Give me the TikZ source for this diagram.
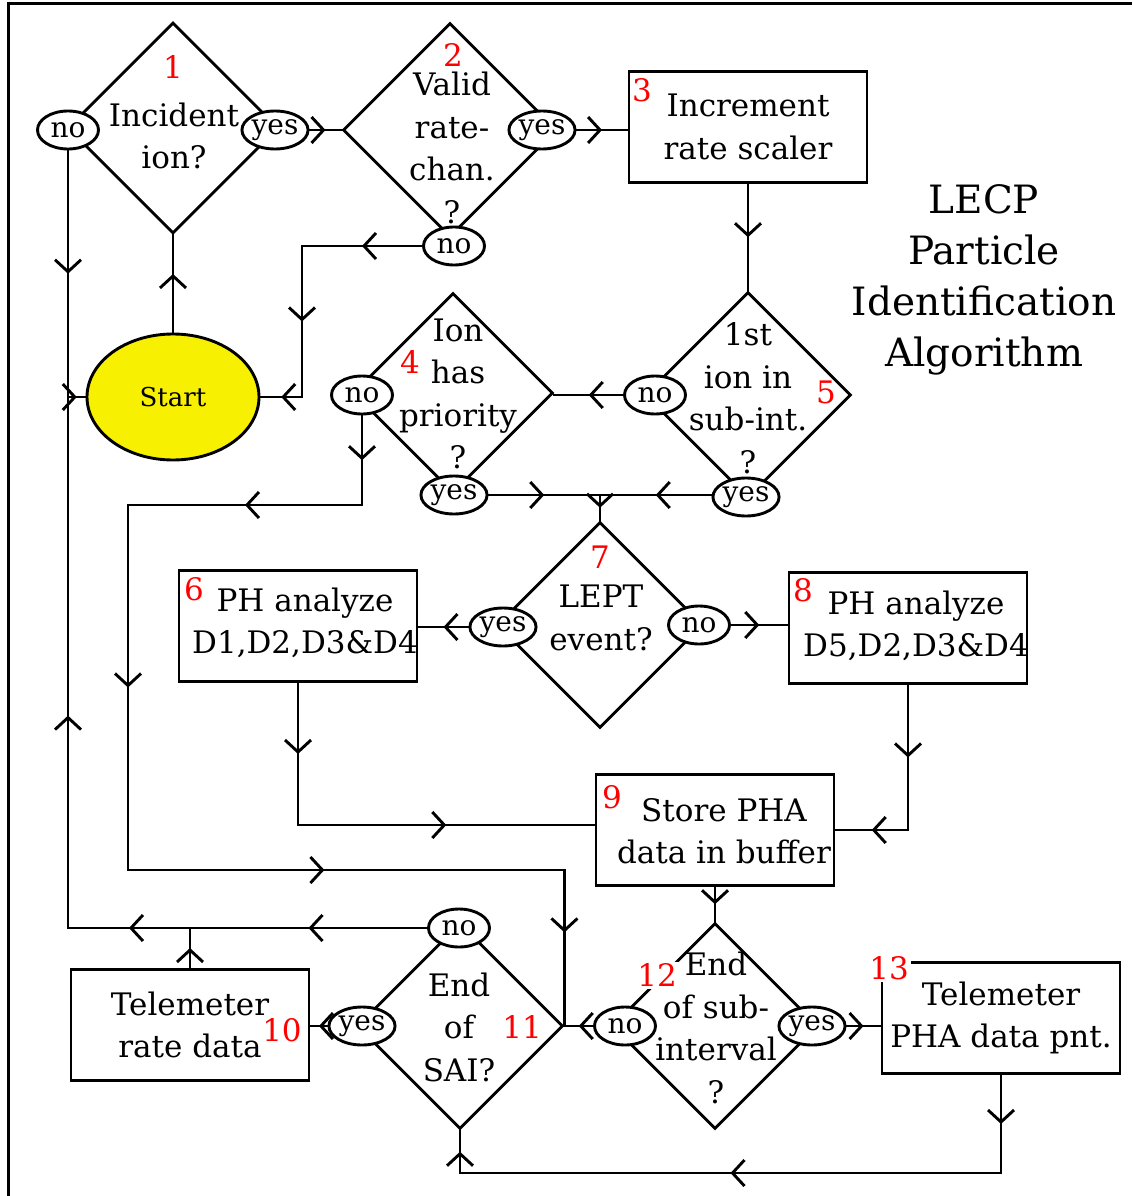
\documentclass[tikz,border=0pt]{standalone}
\usepackage{fontspec}
\setmainfont{DejaVu Serif}
\usetikzlibrary{shapes.geometric,arrows.meta,decorations.markings}
\definecolor{startyellow}{RGB}{247,240,0}

\begin{document}
\begin{tikzpicture}[x=1pt, y=-1pt, line width=2.9pt,
    every node/.style={font=\fontsize{31}{42.5}\selectfont},
    dia/.style={diamond, draw, aspect=1, minimum size=206pt, inner sep=0pt},
    box/.style={rectangle, draw, minimum width=238pt, minimum height=111pt,
      inner sep=0pt, align=center},
    yn/.style={ellipse, draw, fill=white, minimum width=61pt,
      minimum height=38pt, inner sep=0pt, font=\fontsize{28}{30}\selectfont},
    txt/.style={align=center, inner sep=0pt},
    num/.style={text=red, inner sep=0pt},
    flow/.style={line cap=rect, postaction={decorate}, decoration={markings,
      mark=at position #1 with {\arrow{Straight Barb[length=12pt,width=26pt]}}}},
    flow/.default=0.5]

    \useasboundingbox (0,0) rectangle (1132,1196);
    \draw[line width=3pt] (8,1196) -- (8,4) -- (1132,4);

    \node[dia, minimum size=211pt] (d1) at (173,128) {};
    \node[dia, minimum size=214pt] (d2) at (450,130) {};
    \node[dia, minimum size=200pt] (d4) at (453,393) {};
    \node[dia] (d5) at (748,395) {};
    \node[dia] (d7) at (600,625) {};
    \node[dia] (d11) at (460,1026) {};
    \node[dia] (d12) at (715,1026) {};

    \node[box] (b3) at (748,127) {Increment\\rate scaler};
    \node[box] (b6) at (298,626) {};
    \node[box] (b8) at (908,628) {};
    \node[box] (b9) at (715,830) {};
    \node[box] (b10) at (190,1025) {Telemeter\\rate data};
    \node[box] (b13) at (1001,1018) {Telemeter\\PHA data pnt.};

    \node[ellipse, draw, fill=startyellow, minimum width=172pt, minimum height=126pt,
      font=\fontsize{26}{30}\selectfont] (st) at (173,397) {Start};

    \node[txt] (t1) at (174,136) {Incident\\ion?};
    \node[txt] (t2) at (452,148) {Valid\\rate-\\chan.\\?};
    \node[txt] (t4) at (458,394) {Ion\\has\\priority\\?};
    \node[txt] (t5) at (748,398) {1st\\ion in\\sub-int.\\?};
    \node[txt] (t7) at (601,618) {LEPT\\event?};
    \node[txt] (t11) at (459,1027) {End\\of\\SAI?};
    \node[txt] (t12) at (716,1028) {End\\of sub-\\interval\\?};

    \begin{scope}
      \clip (b6.south west) rectangle (b6.north east);
      \node[txt] (t6) at (305,623) {PH analyze\\D1,D2,D3\&D4};
    \end{scope}
    \begin{scope}
      \clip (b8.south west) rectangle (b8.north east);
      \node[txt] (t8) at (916,626) {PH analyze\\D5,D2,D3\&D4};
    \end{scope}
    \begin{scope}
      \clip (b9.south west) rectangle (b9.north east);
      \node[txt] (t9) at (724,831) {Store PHA\\data in buffer};
    \end{scope}

    \node[txt, font=\fontsize{39}{51}\selectfont] (title) at (984,280)
      {LECP\\Particle\\Identification\\Algorithm};

    \node[num] (n1) at (173,67) {1};
    \node[num] (n2) at (453,55) {2};
    \node[num] (n3) at (642,90) {3};
    \node[num] (n4) at (410,362) {4};
    \node[num] (n5) at (826,392) {5};
    \node[num] (n6) at (194,589) {6};
    \node[num] (n7) at (600,557) {7};
    \node[num] (n8) at (803,590) {8};
    \node[num] (n9) at (612,797) {9};
    \node[num] (n10) at (282,1030) {10};
    \node[num] (n11) at (522,1027) {11};
    \node[num, fill=white, inner sep=2pt] (n12) at (657,975) {12};
    \node[num, fill=white, inner sep=2pt] (n13) at (889,968) {13};

    \node[yn] (no1) at (68,130) {no};
    \node[yn] (yes1) at (275,130) {yes};
    \node[yn] (yes2) at (542,130) {yes};
    \node[yn] (no2) at (454,246) {no};
    \node[yn] (no4) at (362,395) {no};
    \node[yn] (yes4) at (454,495) {yes};
    \node[yn] (no5) at (655,395) {no};
    \node[yn] (yes5) at (746,497) {yes};
    \node[yn] (yes7) at (503,627) {yes};
    \node[yn] (no7) at (699,625) {no};
    \node[yn] (no11) at (459,928) {no};
    \node[yn] (yes11) at (362,1026) {yes};
    \node[yn] (no12) at (625,1026) {no};
    \node[yn] (yes12) at (812,1026) {yes};

    \coordinate (cs) at (no1.south |- st.west);
    \coordinate (cb) at (no1.south |- no11.west);
    \coordinate (cj) at (b10.north |- no11.west);
    \coordinate (c2a) at (302,246);
    \coordinate (c2b) at (c2a |- st.east);
    \coordinate (c4a) at (362,505);
    \coordinate (c4b) at (128,505);
    \coordinate (c4c) at (128,870);
    \coordinate (c4d) at (d11.east |- c4c);
    \coordinate (c7) at (d7.north |- yes4.east);
    \coordinate (c6) at (298,825);
    \coordinate (c8) at (908,830);
    \coordinate (c13a) at (1001,1173);
    \coordinate (c13b) at (d11.south |- c13a);

    \draw[flow=0.6] (st.north) -- (d1.south);
    \draw[flow] (no1.south) -- (cs);
    \draw[flow] (cs) -- (st.west);
    \draw[flow=0.4] (cb) -- (cs);
    \draw[flow] (yes1.east) -- (d2.west);
    \draw[flow] (yes2.east) -- (yes2.east -| b3.west);
    \draw[flow] (b3.south) -- (d5.north);
    \draw[flow] (no2.west) -- (c2a);
    \draw[flow] (c2a) -- (c2b);
    \draw[flow] (c2b) -- (st.east);
    \draw[flow] (no5.west) -- (no5.west -| d4.east);
    \draw[flow] (no4.south) -- (c4a);
    \draw[flow] (c4a) -- (c4b);
    \draw[flow] (c4b) -- (c4c);
    \draw[flow=0.45] (c4c) -- (c4d);
    \draw[flow=0.4] (c4d) -- (d11.east);
    \draw[flow] (yes4.east) -- (c7);
    \draw[flow] (yes5.west |- c7) -- (c7);
    \draw[flow] (c7) -- (d7.north);
    \draw[flow] (yes7.west) -- (yes7.west -| b6.east);
    \draw[flow] (no7.east) -- (no7.east -| b8.west);
    \draw[flow] (b6.south) -- (c6);
    \draw[flow] (c6) -- (c6 -| b9.west);
    \draw[flow] (b8.south) -- (c8);
    \draw[flow] (c8) -- (c8 -| b9.east);
    \draw[flow] (b9.south) -- (d12.north);
    \draw[flow] (no12.west) -- (d11.east);
    \draw[flow] (yes12.east) -- (yes12.east -| b13.west);
    \draw[flow] (b13.south) -- (c13a);
    \draw[flow] (c13a) -- (c13b);
    \draw[flow] (c13b) -- (d11.south);
    \draw[flow] (yes11.west) -- (yes11.west -| b10.east);
    \draw[flow] (no11.west) -- (cj);
    \draw[flow] (cj) -- (cb);
    \draw[flow] (b10.north) -- (cj);

  \end{tikzpicture}
\end{document}
